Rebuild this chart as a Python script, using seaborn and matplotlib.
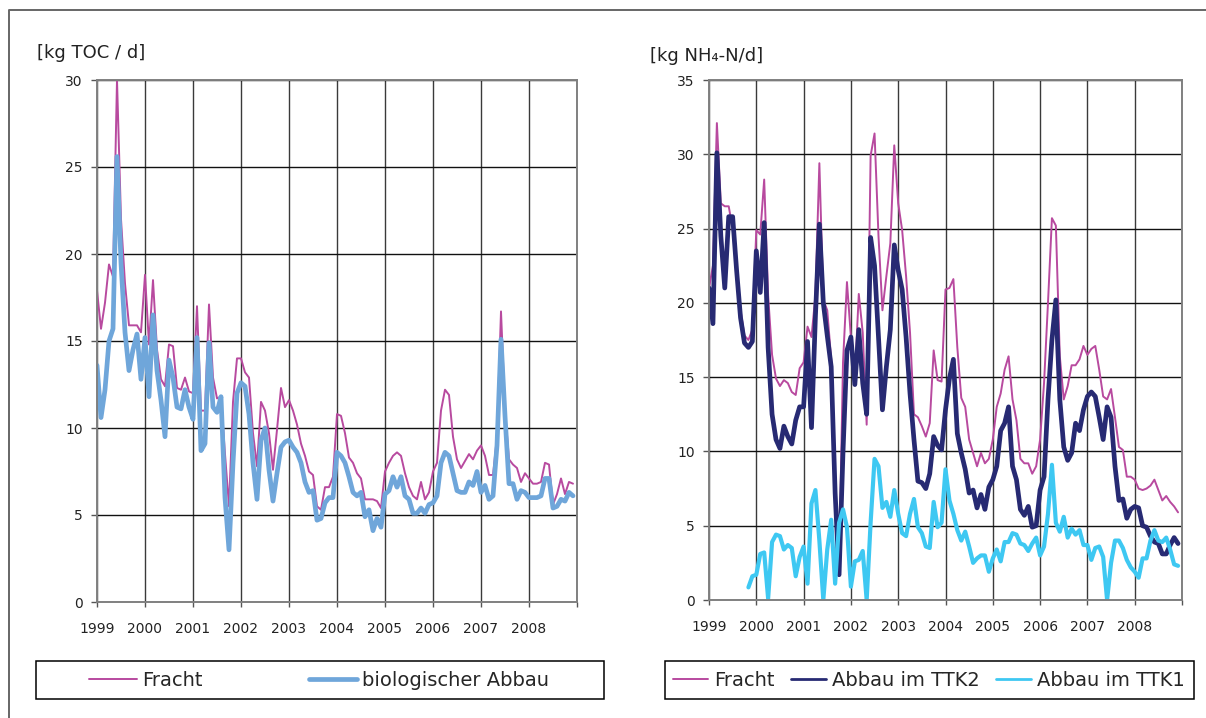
import numpy as np
import pandas as pd
import matplotlib
matplotlib.use("Agg")
import matplotlib.pyplot as plt
import seaborn as sns
from matplotlib.patches import Rectangle
from matplotlib.lines import Line2D

# ---------------- data (monthly, Jan 1999 - Dec 2008) ----------------
year_ticks = list(range(1999, 2010))
year_labels = [str(y) for y in range(1999, 2009)] + [""]
toc_ticks = [0, 5, 10, 15, 20, 25, 30]
nh4_ticks = [0, 5, 10, 15, 20, 25, 30, 35]

toc_fracht = [
    17.9, 15.7, 17.2, 19.4, 18.7, 30.0, 22.0, 18.3, 15.9, 15.9, 15.9, 15.5,
    18.8, 14.8, 18.5, 14.5, 12.8, 12.4, 14.8, 14.7, 12.3, 12.2, 12.9, 12.1,
    12.0, 17.0, 11.0, 11.0, 17.1, 12.9, 11.7, 11.8, 8.5, 5.5, 11.5, 14.0,
    14.0, 13.2, 12.9, 9.7, 7.8, 11.5, 11.0, 9.7, 7.6, 9.9, 12.3, 11.2,
    11.6, 11.0, 10.2, 9.1, 8.4, 7.5, 7.3, 5.5, 5.3, 6.6, 6.6, 7.2,
    10.8, 10.7, 9.7, 8.3, 8.0, 7.4, 7.1, 5.9, 5.9, 5.9, 5.8, 5.4,
    7.5, 8.0, 8.4, 8.6, 8.4, 7.4, 6.6, 6.1, 5.9, 6.9, 5.9, 6.3,
    7.5, 8.0, 11.0, 12.2, 11.9, 9.5, 8.2, 7.7, 8.1, 8.5, 8.2, 8.7,
    9.0, 8.4, 7.3, 7.3, 9.5, 16.7, 11.0, 8.2, 7.9, 7.7, 6.9, 7.4,
    7.1, 6.8, 6.8, 6.9, 8.0, 7.9, 5.6, 6.2, 7.1, 6.2, 6.9, 6.8,
]
toc_abbau = [
    13.6, 10.6, 12.2, 15.0, 15.7, 25.6, 19.5, 15.5, 13.3, 14.5, 15.4, 12.8,
    15.2, 11.8, 16.5, 13.3, 11.6, 9.5, 13.9, 12.9, 11.2, 11.1, 12.2, 11.2,
    10.5, 15.2, 8.7, 9.1, 14.9, 11.2, 10.9, 11.8, 6.0, 3.0, 8.0, 12.0,
    12.6, 12.4, 10.8, 8.0, 5.9, 9.3, 10.0, 7.6, 5.8, 7.4, 8.9, 9.2,
    9.3, 8.9, 8.6, 8.0, 6.9, 6.3, 6.4, 4.7, 4.8, 5.7, 6.0, 6.0,
    8.6, 8.4, 8.0, 7.2, 6.3, 6.1, 6.3, 4.9, 5.3, 4.1, 4.8, 4.3,
    6.2, 6.4, 7.2, 6.6, 7.2, 6.1, 5.9, 5.1, 5.1, 5.4, 5.1, 5.6,
    5.7, 6.1, 8.0, 8.6, 8.4, 7.4, 6.4, 6.3, 6.3, 6.9, 6.7, 7.5,
    6.3, 6.7, 5.9, 6.1, 9.0, 15.1, 10.7, 6.8, 6.8, 5.9, 6.4, 6.3,
    6.0, 6.0, 6.0, 6.1, 7.1, 7.1, 5.4, 5.5, 5.9, 5.8, 6.3, 6.1,
]
nh4_fracht = [
    21.0, 22.5, 32.1, 26.7, 26.5, 26.5, 25.0, 22.0, 19.5, 17.8, 17.5, 18.2,
    24.9, 24.6, 28.3, 20.5, 16.5, 14.9, 14.4, 14.8, 14.6, 14.0, 13.8, 15.6,
    16.0, 18.4, 17.7, 20.5, 29.4, 20.2, 19.5, 16.2, 8.0, 2.0, 16.0, 21.4,
    17.7, 15.0, 20.6, 18.0, 11.8, 29.9, 31.4, 24.5, 19.5, 21.8, 24.0, 30.6,
    26.7, 24.9, 21.8, 18.0, 12.5, 12.3, 11.7, 11.0, 11.9, 16.8, 14.8, 14.7,
    20.9, 21.0, 21.6, 17.0, 13.6, 13.0, 10.8, 9.9, 9.0, 9.9, 9.2, 9.5,
    10.8, 13.0, 13.9, 15.5, 16.4, 13.5, 12.1, 9.5, 9.2, 9.2, 8.5, 9.0,
    10.8, 14.6, 20.0, 25.7, 25.2, 16.4, 13.5, 14.4, 15.8, 15.8, 16.2, 17.1,
    16.5, 16.9, 17.1, 15.5, 13.7, 13.5, 14.2, 12.3, 10.3, 10.1, 8.3, 8.3,
    8.1, 7.5, 7.4, 7.5, 7.7, 8.1, 7.4, 6.7, 7.0, 6.6, 6.3, 5.9,
]
nh4_ttk2 = [
    21.0, 18.6, 30.1, 24.5, 21.0, 25.8, 25.8, 22.2, 19.0, 17.3, 17.0, 17.4,
    23.5, 20.7, 25.4, 17.0, 12.5, 10.8, 10.2, 11.7, 11.0, 10.5, 12.1, 13.0,
    13.0, 17.4, 11.6, 19.1, 25.3, 20.0, 17.8, 15.7, 7.2, 1.7, 10.0, 16.8,
    17.7, 14.5, 18.2, 14.6, 12.5, 24.4, 22.5, 17.7, 12.8, 15.7, 18.2, 23.9,
    22.2, 20.9, 17.7, 13.9, 10.8, 8.0, 7.9, 7.5, 8.5, 11.0, 10.4, 10.1,
    12.8, 14.9, 16.2, 11.2, 9.9, 8.8, 7.2, 7.4, 6.2, 7.1, 6.1, 7.6,
    8.1, 9.0, 11.4, 11.9, 13.0, 9.0, 8.1, 6.1, 5.7, 6.3, 4.9, 5.0,
    7.4, 8.3, 13.5, 17.5, 20.2, 13.5, 10.3, 9.4, 9.9, 11.9, 11.4, 12.8,
    13.7, 14.0, 13.7, 12.3, 10.8, 13.0, 12.3, 9.0, 6.7, 6.8, 5.5, 6.1,
    6.3, 6.2, 5.0, 4.9, 4.3, 3.9, 3.8, 3.1, 3.1, 3.7, 4.2, 3.8,
]
nh4_ttk1 = [np.nan] * 10 + [
    0.85, 1.6,
    1.7, 3.1, 3.2, 0.1, 3.9, 4.4, 4.3, 3.4, 3.7, 3.5, 1.6, 2.9,
    3.6, 1.1, 6.5, 7.4, 4.0, 0.0, 3.4, 5.4, 1.1, 5.2, 6.1, 4.9,
    0.9, 2.6, 2.7, 3.3, 0.0, 5.2, 9.5, 9.0, 6.2, 6.6, 5.6, 7.4,
    5.8, 4.5, 4.3, 5.8, 6.8, 4.9, 4.5, 3.6, 3.5, 6.6, 4.9, 5.2,
    8.8, 6.7, 5.8, 4.7, 4.0, 4.6, 3.6, 2.5, 2.8, 3.0, 3.0, 1.9,
    2.8, 3.4, 2.6, 3.9, 3.9, 4.5, 4.4, 3.8, 3.7, 3.3, 3.8, 4.2,
    3.0, 3.6, 5.8, 9.1, 5.2, 4.6, 5.6, 4.2, 4.8, 4.4, 4.7, 3.7,
    3.7, 2.7, 3.5, 3.6, 2.9, 0.0, 2.5, 4.0, 4.0, 3.5, 2.7, 2.2,
    1.9, 1.5, 2.8, 2.8, 4.0, 4.7, 4.0, 3.9, 4.2, 3.4, 2.4, 2.3,
]
months = 1999 + np.arange(120) / 12.0

MAG = "#B84A9F"
BLUE = "#6FA6DA"
NAVY = "#272A73"
CYAN = "#3EC8F2"

sns.set_theme(style="white")
plt.rcParams["font.family"] = ["DejaVu Sans"]

W, H = 1206, 718
fig = plt.figure(figsize=(W / 100, H / 100), dpi=100)
ax1 = fig.add_axes([97 / W, 1 - 602 / H, 480 / W, 522 / H])
ax2 = fig.add_axes([709 / W, 1 - 600 / H, 473 / W, 520 / H])

df1 = pd.DataFrame({"t": months, "fracht": toc_fracht, "abbau": toc_abbau})
df2 = pd.DataFrame({"t": months, "fracht": nh4_fracht, "ttk2": nh4_ttk2, "ttk1": nh4_ttk1})

sns.lineplot(data=df1, x="t", y="fracht", ax=ax1, color=MAG, lw=1.4, legend=False)
sns.lineplot(data=df1, x="t", y="abbau", ax=ax1, color=BLUE, lw=3.4, legend=False)
sns.lineplot(data=df2, x="t", y="fracht", ax=ax2, color=MAG, lw=1.4, legend=False)
sns.lineplot(data=df2, x="t", y="ttk2", ax=ax2, color=NAVY, lw=3.4, legend=False)
sns.lineplot(data=df2, x="t", y="ttk1", ax=ax2, color=CYAN, lw=3.0, legend=False)

for ax, ymax, yt in [(ax1, 30, toc_ticks), (ax2, 35, nh4_ticks)]:
    ax.set_xlim(1999, 2009)
    ax.set_ylim(0, ymax)
    ax.set_xticks(year_ticks)
    ax.set_xticklabels(year_labels)
    ax.set_yticks(yt)
    ax.set_xlabel("")
    ax.set_ylabel("")
    ax.xaxis.grid(True, color="#3a3a3a", lw=1.0)
    ax.yaxis.grid(True, color="#111111", lw=1.0)
    ax.set_axisbelow(True)
    for sp in ax.spines.values():
        sp.set_visible(True)
        sp.set_color("#808080")
        sp.set_linewidth(1.4)
    ax.tick_params(axis="y", left=True, length=4.3, width=1, color="#555555",
                   labelsize=10, pad=6, labelcolor="#222222")
    ax.tick_params(axis="x", bottom=True, length=3.6, width=1, color="#555555",
                   labelsize=10, pad=11, labelcolor="#222222")

fig.text(37 / W, 1 - 53 / H, "[kg TOC / d]", ha="left", va="center", fontsize=13, color="#222222")
fig.text(650 / W, 1 - 56 / H, "[kg NH\u2084-N/d]", ha="left", va="center", fontsize=13, color="#222222")

# legends
yc = 1 - 680 / H
h1 = [Line2D([], [], color=MAG, lw=1.4), Line2D([], [], color=BLUE, lw=3.4)]
fig.legend(h1, ["Fracht", "biologischer Abbau"], loc="center left", mode="expand",
           bbox_to_anchor=(89 / W, yc, (549 - 89) / W, 0), ncol=2, frameon=False,
           fontsize=14, handlelength=2.47, handletextpad=0.28, borderpad=0, borderaxespad=0)
h2 = [Line2D([], [], color=MAG, lw=1.4), Line2D([], [], color=NAVY, lw=2.0),
      Line2D([], [], color=CYAN, lw=2.0)]
fig.legend(h2, ["Fracht", "Abbau im TTK2", "Abbau im TTK1"], loc="center left", mode="expand",
           bbox_to_anchor=(673 / W, yc, (1185 - 673) / W, 0), ncol=3, frameon=False,
           fontsize=14, handlelength=1.8, handletextpad=0.33, borderpad=0, borderaxespad=0,
           columnspacing=0.4)
fig.add_artist(Rectangle((36 / W, 1 - 699 / H), (604 - 36) / W, 38 / H, transform=fig.transFigure,
                         fill=False, ec="black", lw=1.1))
fig.add_artist(Rectangle((665 / W, 1 - 699 / H), (1194 - 665) / W, 38 / H, transform=fig.transFigure,
                         fill=False, ec="black", lw=1.1))

# outer frame (top and left edges)
fig.add_artist(Line2D([9 / W, 9 / W, 1.0], [0.0, 1 - 10 / H, 1 - 10 / H], transform=fig.transFigure,
                      color="#666666", lw=1.4))

fig.savefig("out.png", dpi=100)
